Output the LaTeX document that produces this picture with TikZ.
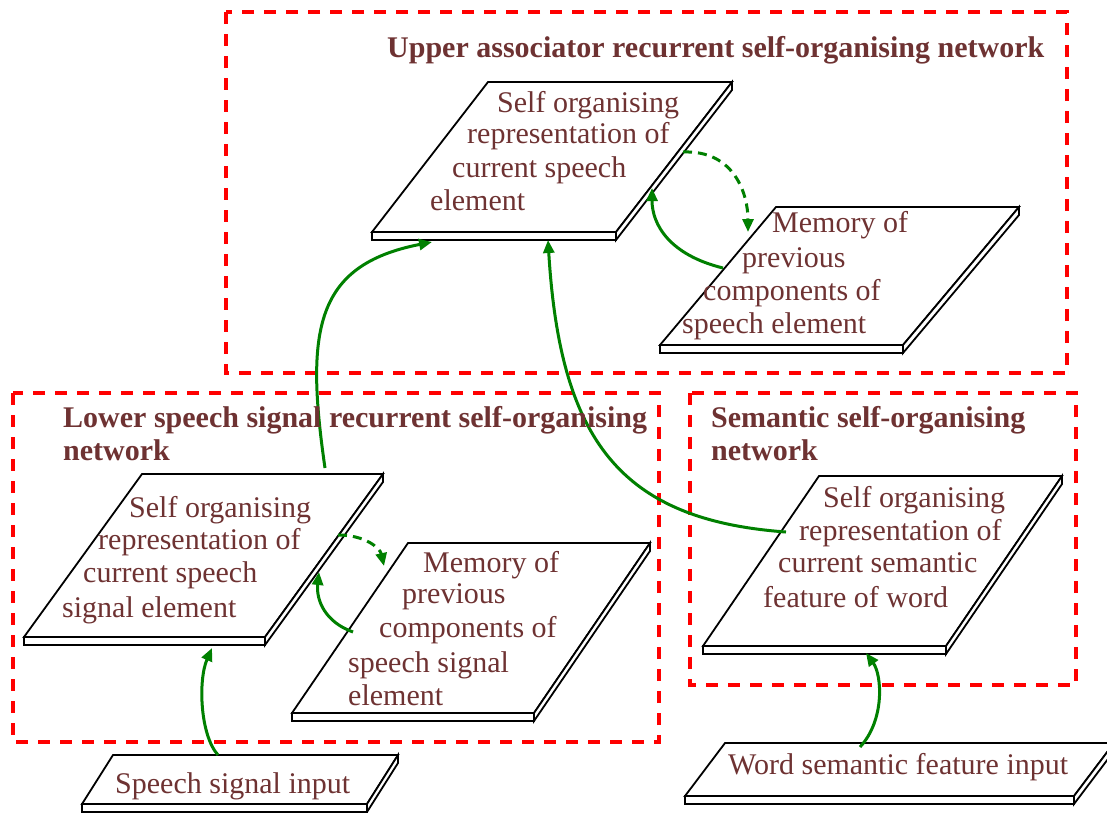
\documentclass[tikz,border=0pt]{standalone}
\usepackage{fontspec}
\setmainfont{Liberation Serif}
\usetikzlibrary{arrows.meta}

\definecolor{labelred}{RGB}{110,50,50}
\definecolor{flowgreen}{RGB}{0,128,0}
\definecolor{boxred}{RGB}{255,0,0}

\tikzset{
  slabline/.style={draw=black, line width=1.8pt, fill=white, line join=miter},
  netbox/.style={draw=boxred, line width=3.4pt, dash pattern=on 12pt off 10pt},
  flow/.style={draw=flowgreen, line width=3pt,
    -{Triangle[length=13pt,width=11pt]}},
  flowdashed/.style={flow, dash pattern=on 9pt off 6pt},
  txt/.style={text=labelred, inner sep=0pt, anchor=base west,
    font=\fontsize{30}{33}\selectfont},
  ttl/.style={txt, font=\fontsize{30}{33}\selectfont\bfseries},
}

% flat slab: name, top-left x, top-left y, width, skew, depth
\newcommand\slab[6]{%
  \draw[slabline] (#2,#3) -- ++(#4,0) -- ++(-#5,#6) -- ++(-#4,0) -- cycle;
  \draw[slabline] (#2-#5,#3+#6) rectangle ++(#4,8);
  \draw[slabline] (#2+#4-#5,#3+#6) -- (#2+#4,#3) -- ++(0,8)
    -- (#2+#4-#5,#3+#6+8) -- cycle;
  \coordinate (#1) at (#2+#4/2-#5/2,#3+#6/2);
}

\begin{document}
\begin{tikzpicture}[x=1pt, y=-1pt]
\useasboundingbox (0,0) rectangle (1107,812);
\clip (0,0) rectangle (1107,812);

% network frames
\draw[netbox] (226,12) rectangle (1067,373);
\draw[netbox] (13,393) rectangle (659,742);
\draw[netbox] (690,393) rectangle (1076,685);

% slabs
\slab{upperrep}{488}{82}{244}{116}{150}
\slab{uppermem}{776}{207}{243}{116}{138}
\slab{lowerrep}{142}{474}{241}{118}{163}
\slab{lowermem}{408}{543}{242}{116}{170}
\slab{semrep}{819}{476}{243}{116}{170}
\slab{speechin}{113}{755}{285}{31}{49}
\slab{wordin}{725}{743}{389}{40}{53}

% connector end points on the slabs
\coordinate (speechinTop) at (218,755);
\coordinate (lowerrepBot) at (212,648);
\coordinate (lowerrepTop) at (325,468);
\coordinate (upperrepBotL) at (432,242);
\coordinate (semrepEdge) at (786,532);
\coordinate (upperrepBotR) at (548,240);
\coordinate (wordinTop) at (860,747);
\coordinate (semrepBot) at (866,653);
\coordinate (uppermemEdge) at (723,268);
\coordinate (upperrepSide) at (652,188);
\coordinate (upperrepOut) at (683,152);
\coordinate (uppermemIn) at (748,232);
\coordinate (lowermemEdge) at (353,632);
\coordinate (lowerrepSide) at (319,572);
\coordinate (lowerrepOut) at (338,535);
\coordinate (lowermemIn) at (384,566);

% connectors
\draw[flow] (speechinTop) .. controls (200,735) and (198,680) .. (lowerrepBot);
\draw[flow] (lowerrepTop) .. controls (305,330) and (315,265) .. (upperrepBotL);
\draw[flow] (semrepEdge) .. controls (620,520) and (560,440) .. (upperrepBotR);
\draw[flow] (wordinTop) .. controls (885,720) and (882,675) .. (semrepBot);
\draw[flow] (uppermemEdge) .. controls (670,255) and (652,225) .. (upperrepSide);
\draw[flowdashed] (upperrepOut) .. controls (735,150) and (748,195) .. (uppermemIn);
\draw[flow] (lowermemEdge) .. controls (325,622) and (316,600) .. (lowerrepSide);
\draw[flowdashed] (lowerrepOut) .. controls (365,535) and (380,548) .. (lowermemIn);

% frame titles
\node[ttl] (ttlupper) at (387,57) {Upper associator recurrent self-organising network};
\node[ttl] (ttllowerA) at (63,427) {Lower speech signal recurrent self-organising};
\node[ttl] (ttllowerB) at (63,460) {network};
\node[ttl] (ttlsemA) at (711,427) {Semantic self-organising};
\node[ttl] (ttlsemB) at (711,460) {network};

% slab texts
\node[txt] (ua) at (497,112) {Self organising};
\node[txt] (ub) at (467,143) {representation of};
\node[txt] (uc) at (452,177) {current speech};
\node[txt] (ud) at (430,210) {element};

\node[txt] (uma) at (772,232) {Memory of};
\node[txt] (umb) at (742,267) {previous};
\node[txt] (umc) at (703,300) {components of};
\node[txt] (umd) at (682,333) {speech element};

\node[txt] (la) at (129,517) {Self organising};
\node[txt] (lb) at (98,549) {representation of};
\node[txt] (lc) at (83,582) {current speech};
\node[txt] (ld) at (62,617) {signal element};

\node[txt] (lma) at (423,572) {Memory of};
\node[txt] (lmb) at (402,603) {previous};
\node[txt] (lmc) at (379,637) {components of};
\node[txt] (lmd) at (348,672) {speech signal};
\node[txt] (lme) at (348,705) {element};

\node[txt] (sa) at (823,507) {Self organising};
\node[txt] (sb) at (799,540) {representation of};
\node[txt] (sc) at (778,572) {current semantic};
\node[txt] (sd) at (763,607) {feature of word};

\node[txt] (sin) at (115,793) {Speech signal input};
\node[txt] (win) at (728,774) {Word semantic feature input};
\end{tikzpicture}
\end{document}
